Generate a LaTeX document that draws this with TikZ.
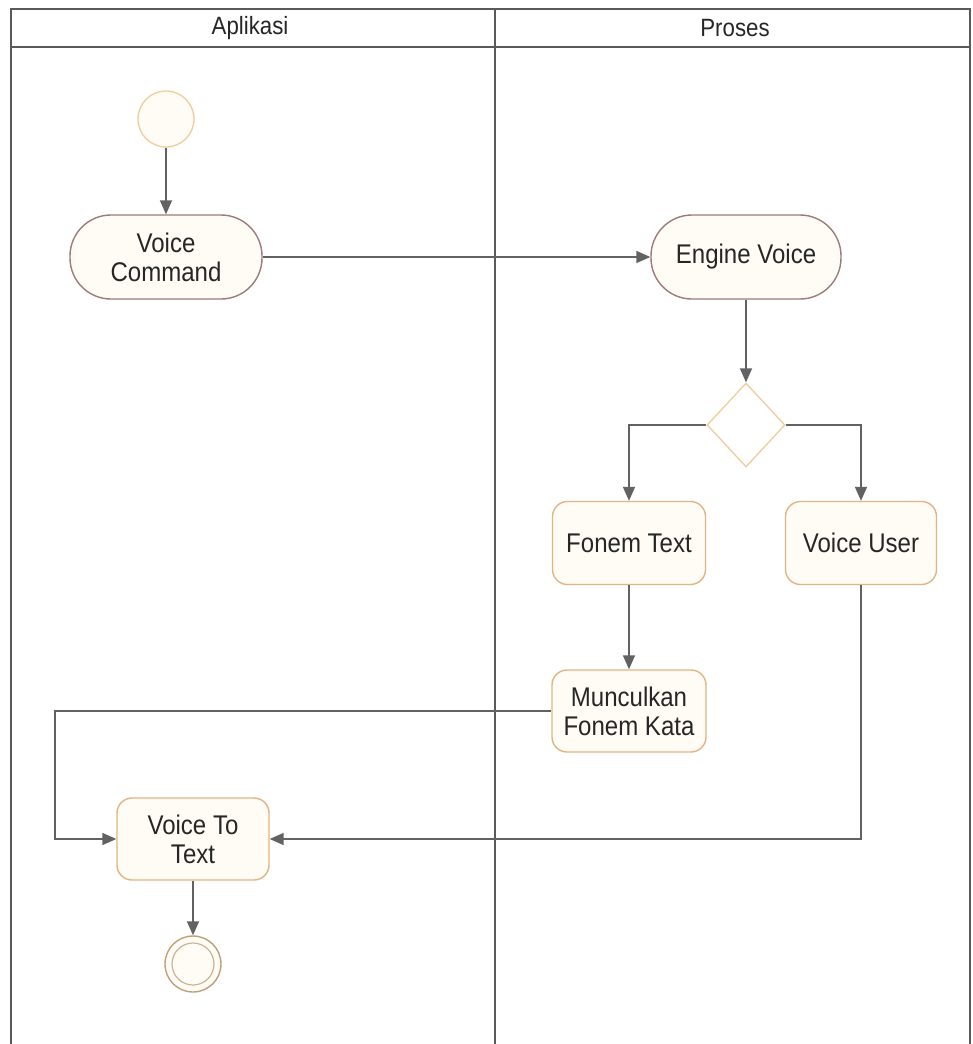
\documentclass[tikz,border=0pt]{standalone}
\usepackage{fontspec}
\setmainfont{Liberation Sans}[FakeStretch=0.89]
\usetikzlibrary{arrows.meta,shapes.geometric}
\definecolor{frameline}{HTML}{5A5A5A}
\definecolor{flow}{HTML}{626262}
\definecolor{pillborder}{HTML}{9E7A7A}
\definecolor{boxborder}{HTML}{E2B483}
\definecolor{nodefill}{HTML}{FFFCF5}
\definecolor{startborder}{HTML}{F0CC9A}
\definecolor{endborder}{HTML}{C0A07A}
\begin{document}
\begin{tikzpicture}[x=1pt,y=-1pt,
  lane/.style={draw=frameline,line width=1.3pt},
  flowline/.style={draw=flow,line width=1.6pt,-{Triangle[length=14pt,width=12pt]}},
  labeltext/.style={font=\fontsize{27}{29}\selectfont,text=black!85},
  headtext/.style={font=\fontsize{25}{29}\selectfont,text=black!85},
  pill/.style={labeltext,draw=pillborder,line width=1.4pt,fill=nodefill,
    rounded corners=41pt,minimum height=84pt,align=center,inner sep=0pt},
  actbox/.style={labeltext,draw=boxborder,line width=1.4pt,fill=nodefill,
    rounded corners=15pt,minimum height=83pt,align=center,inner sep=0pt},
  choice/.style={diamond,draw=startborder,line width=1.3pt,fill=white,
    minimum width=78pt,minimum height=84pt,inner sep=0pt,aspect=0.93},
  startnode/.style={circle,draw=startborder,line width=1.3pt,fill=nodefill,
    minimum size=56pt,inner sep=0pt},
]
\useasboundingbox (0,0) rectangle (973,1044);
\fill[white] (0,0) rectangle (973,1044);

% swimlane frame
\draw[lane] (11,1044) -- (11,9) -- (970,9) -- (970,1044);
\draw[lane] (11,47) -- (970,47);
\draw[lane] (495,9) -- (495,1044);
\node[headtext] (hdrA) at (250,28) {Aplikasi};
\node[headtext] (hdrB) at (735,28) {Proses};

% activity nodes
\node[startnode] (start) at (166,119) {};
\node[pill,minimum width=192pt] (cmd) at (166,257) {Voice\\Command};
\node[pill,minimum width=190pt] (engine) at (746,257) {Engine Voice};
\node[choice] (dec) at (746,425) {};
\node[actbox,minimum width=153pt] (fonem) at (629,543) {Fonem Text};
\node[actbox,minimum width=151pt] (vuser) at (861,543) {Voice User};
\node[actbox,minimum width=154pt,minimum height=82pt] (muncul) at (629,711) {Munculkan\\Fonem Kata};
\node[actbox,minimum width=152pt,minimum height=82pt] (vtt) at (193,839) {Voice To\\Text};
\node[circle,draw=endborder,line width=1.4pt,fill=nodefill,minimum size=56pt,inner sep=0pt] (stop) at (193,964) {};
\node[circle,draw=endborder!80,line width=1.2pt,minimum size=42pt,inner sep=0pt] (stopin) at (stop) {};

% bend points of the routed connectors
\coordinate (loopL) at (55,711);
\coordinate (loopLb) at (55,839);
\coordinate (userDown) at (861,839);

% connectors
\draw[flowline] (start) -- (cmd);
\draw[flowline] (cmd) -- (engine);
\draw[flowline] (engine) -- (dec.north);
\draw[flowline] (dec.west) -| (fonem.north);
\draw[flowline] (dec.east) -| (vuser.north);
\draw[flowline] (fonem) -- (muncul);
\draw[flowline] (muncul.west) -- (loopL) -- (loopLb) -- (vtt.west);
\draw[flowline] (vuser.south) -- (userDown) -- (vtt.east);
\draw[flowline] (vtt) -- (stop);
\end{tikzpicture}
\end{document}
